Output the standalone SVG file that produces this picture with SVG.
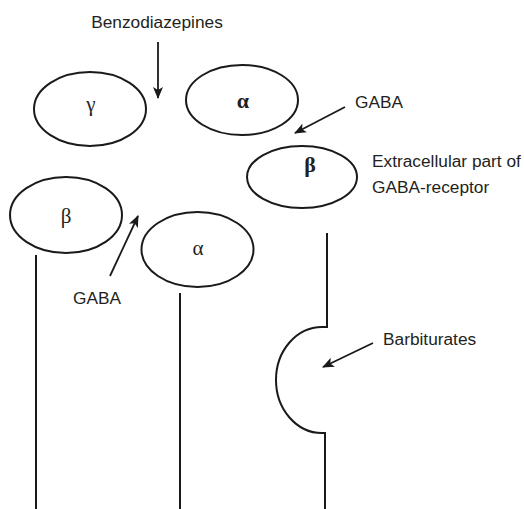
<svg xmlns="http://www.w3.org/2000/svg" width="524" height="509" viewBox="0 0 524 509">
<style>
.sh{fill:none;stroke:#1a1a1a;stroke-width:2}
.ln{fill:none;stroke:#1a1a1a;stroke-width:2}
.ar{fill:none;stroke:#1a1a1a;stroke-width:1.8;marker-end:url(#ah)}
.lb{font-family:"Liberation Sans",Arial,sans-serif;font-size:17.3px;fill:#231f20}
.gk{font-family:"Liberation Serif","Times New Roman",serif;font-size:21px;fill:#231f20;text-anchor:middle}
.bd{font-weight:bold;font-size:22px}
</style>
<defs>
<marker id="ah" viewBox="0 0 12 10" refX="11" refY="5" markerWidth="12" markerHeight="10" markerUnits="userSpaceOnUse" orient="auto">
<path d="M0,0 L12,5 L0,10 L3,5 Z" fill="#1a1a1a"/>
</marker>
</defs>
<rect width="524" height="509" fill="#fff"/>
<g id="gamma"><ellipse class="sh" cx="90" cy="109" rx="56" ry="37"/><text class="gk" x="91" y="111">γ</text></g>
<g id="alpha-top"><ellipse class="sh" cx="242" cy="100" rx="56" ry="35"/><text class="gk bd" x="243" y="108">α</text></g>
<g id="beta-right"><ellipse class="sh" cx="302" cy="177" rx="55" ry="31"/><text class="gk bd" x="310" y="172">β</text></g>
<g id="beta-left"><ellipse class="sh" cx="66" cy="215" rx="56" ry="38"/><text class="gk" x="66" y="223">β</text></g>
<g id="alpha-mid"><ellipse class="sh" cx="197.5" cy="249.5" rx="56" ry="37.5"/><text class="gk" x="198" y="255">α</text></g>
<g id="membrane">
<line class="ln" x1="36" y1="255" x2="36" y2="509"/>
<line class="ln" x1="180" y1="293" x2="180" y2="509"/>
<path class="ln" d="M327,233 V327 H322 A46 53 0 0 0 322,433 H325 V509"/>
</g>
<g id="labels">
<text class="lb" x="157" y="28" text-anchor="middle">Benzodiazepines</text>
<text class="lb" x="355" y="108">GABA</text>
<text class="lb" x="372" y="167">Extracellular part of</text>
<text class="lb" x="372" y="193">GABA-receptor</text>
<text class="lb" x="73" y="304">GABA</text>
<text class="lb" x="383" y="345">Barbiturates</text>
</g>
<g id="connectors">
<line class="ar" x1="158" y1="42" x2="158" y2="98"/>
<line class="ar" x1="345" y1="107" x2="295" y2="133"/>
<line class="ar" x1="110" y1="276" x2="138" y2="216"/>
<line class="ar" x1="373" y1="343" x2="323" y2="367"/>
</g>
</svg>
